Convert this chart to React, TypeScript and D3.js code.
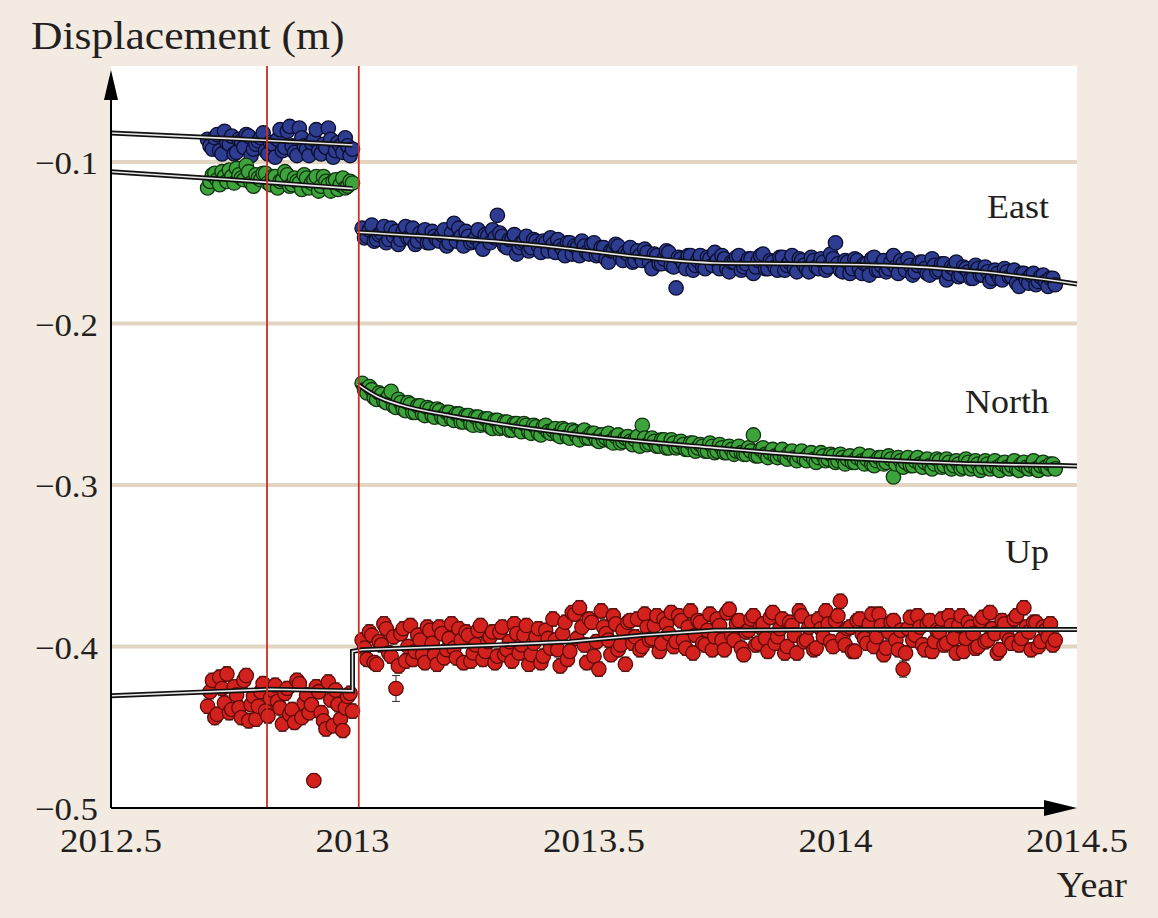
import React from "react";
import * as d3 from "d3";

// GPS station solutions (metres). Two interleaved sets per segment:
// the main set sampled every 0.01 yr, the second offset by half a step.
const PRE_START = 2012.7;
const POST_START = 2013.02;
const STEP = 0.01;
const HALF = 0.005;

const eastPre = [
  -0.086, -0.092, -0.083, -0.095, -0.088, -0.084, -0.094, -0.087, -0.083, -0.096, -0.089,
  -0.085, -0.093, -0.088, -0.097, -0.08, -0.091, -0.078, -0.094, -0.079, -0.09, -0.096,
  -0.086, -0.093, -0.089, -0.079, -0.097, -0.088, -0.094, -0.09, -0.092,
];
const eastPreHalf = [
  -0.09, -0.085, -0.093, -0.081, -0.089, -0.095, -0.086, -0.091, -0.084, -0.092, -0.087, -0.082,
  -0.095, -0.089, -0.086, -0.093, -0.081, -0.09, -0.096, -0.085, -0.092, -0.088, -0.08, -0.095,
  -0.091, -0.086, -0.093, -0.09, -0.085, -0.096,
];
const eastPost = [
  -0.141, -0.146, -0.139, -0.148, -0.144, -0.15, -0.141, -0.143, -0.148, -0.14, -0.147, -0.151,
  -0.144, -0.142, -0.15, -0.146, -0.149, -0.142, -0.15, -0.138, -0.141, -0.152, -0.146, -0.149,
  -0.142, -0.154, -0.146, -0.142, -0.133, -0.146, -0.153, -0.148, -0.157, -0.15, -0.146, -0.153,
  -0.149, -0.156, -0.15, -0.147, -0.156, -0.152, -0.158, -0.15, -0.152, -0.158, -0.152, -0.157,
  -0.15, -0.157, -0.153, -0.162, -0.155, -0.152, -0.161, -0.157, -0.162, -0.155, -0.161, -0.156,
  -0.166, -0.158, -0.163, -0.155, -0.164, -0.178, -0.16, -0.166, -0.158, -0.164, -0.158, -0.166,
  -0.16, -0.156, -0.166, -0.16, -0.168, -0.162, -0.158, -0.165, -0.16, -0.169, -0.161, -0.157,
  -0.166, -0.162, -0.167, -0.159, -0.164, -0.158, -0.168, -0.161, -0.166, -0.159, -0.165, -0.16,
  -0.167, -0.157, -0.15, -0.167, -0.161, -0.169, -0.16, -0.166, -0.163, -0.17, -0.159, -0.167,
  -0.161, -0.166, -0.158, -0.169, -0.163, -0.16, -0.17, -0.164, -0.162, -0.169, -0.16, -0.168,
  -0.163, -0.173, -0.165, -0.162, -0.17, -0.166, -0.172, -0.164, -0.17, -0.165, -0.174, -0.167,
  -0.172, -0.166, -0.171, -0.167, -0.177, -0.169, -0.175, -0.169, -0.174, -0.17, -0.177, -0.172,
];
const eastPostHalf = [
  -0.147, -0.142, -0.149, -0.145, -0.14, -0.148, -0.146, -0.151, -0.143, -0.147, -0.141, -0.149,
  -0.146, -0.15, -0.143, -0.148, -0.145, -0.152, -0.144, -0.149, -0.146, -0.143, -0.15, -0.147,
  -0.151, -0.145, -0.15, -0.147, -0.144, -0.152, -0.148, -0.145, -0.153, -0.149, -0.155, -0.148,
  -0.152, -0.149, -0.155, -0.151, -0.148, -0.154, -0.15, -0.157, -0.153, -0.149, -0.156, -0.151,
  -0.158, -0.153, -0.16, -0.155, -0.151, -0.159, -0.156, -0.153, -0.161, -0.158, -0.154, -0.162,
  -0.157, -0.163, -0.16, -0.156, -0.165, -0.159, -0.163, -0.158, -0.167, -0.161, -0.165, -0.159,
  -0.164, -0.161, -0.158, -0.166, -0.162, -0.159, -0.167, -0.163, -0.16, -0.165, -0.158, -0.166,
  -0.161, -0.165, -0.159, -0.167, -0.162, -0.166, -0.16, -0.164, -0.168, -0.161, -0.166, -0.162,
  -0.165, -0.16, -0.163, -0.168, -0.162, -0.166, -0.161, -0.169, -0.163, -0.16, -0.167, -0.164,
  -0.168, -0.162, -0.165, -0.161, -0.167, -0.164, -0.168, -0.162, -0.166, -0.17, -0.164, -0.167,
  -0.163, -0.169, -0.166, -0.171, -0.165, -0.168, -0.172, -0.166, -0.17, -0.168, -0.172, -0.169,
  -0.173, -0.168, -0.171, -0.175, -0.169, -0.173, -0.17, -0.176, -0.171, -0.174, -0.172, -0.176,
];

const northPre = [
  -0.116, -0.108, -0.111, -0.106, -0.112, -0.109, -0.104, -0.11, -0.102, -0.113, -0.108, -0.111,
  -0.107, -0.114, -0.109, -0.112, -0.106, -0.115, -0.11, -0.113, -0.108, -0.116, -0.111, -0.118,
  -0.109, -0.114, -0.112, -0.117, -0.11, -0.115, -0.113,
];
const northPreHalf = [
  -0.112, -0.107, -0.114, -0.109, -0.105, -0.113, -0.108, -0.111, -0.106, -0.115, -0.11, -0.107,
  -0.113, -0.109, -0.116, -0.111, -0.108, -0.114, -0.112, -0.117, -0.11, -0.113, -0.109, -0.115,
  -0.112, -0.118, -0.111, -0.114, -0.116, -0.112,
];
const northPost = [
  -0.237, -0.243, -0.241, -0.247, -0.244, -0.249, -0.242, -0.252, -0.249, -0.254, -0.25, -0.255,
  -0.251, -0.257, -0.253, -0.258, -0.254, -0.259, -0.255, -0.26, -0.256, -0.261, -0.257, -0.263,
  -0.258, -0.262, -0.259, -0.265, -0.26, -0.264, -0.261, -0.266, -0.262, -0.267, -0.263, -0.268,
  -0.264, -0.269, -0.263, -0.268, -0.265, -0.27, -0.266, -0.271, -0.267, -0.272, -0.266, -0.271,
  -0.268, -0.273, -0.272, -0.268, -0.274, -0.269, -0.273, -0.27, -0.275, -0.27, -0.263, -0.275,
  -0.271, -0.276, -0.272, -0.277, -0.272, -0.277, -0.273, -0.278, -0.274, -0.279, -0.275, -0.279,
  -0.274, -0.28, -0.275, -0.28, -0.276, -0.281, -0.276, -0.281, -0.277, -0.269, -0.282, -0.277,
  -0.283, -0.278, -0.283, -0.278, -0.284, -0.279, -0.285, -0.279, -0.285, -0.28, -0.286, -0.28,
  -0.285, -0.281, -0.286, -0.281, -0.287, -0.282, -0.286, -0.281, -0.287, -0.282, -0.288, -0.283,
  -0.287, -0.282, -0.295, -0.283, -0.289, -0.283, -0.288, -0.283, -0.289, -0.284, -0.29, -0.284,
  -0.289, -0.284, -0.29, -0.285, -0.29, -0.284, -0.29, -0.285, -0.291, -0.285, -0.29, -0.285,
  -0.291, -0.286, -0.29, -0.285, -0.291, -0.286, -0.29, -0.285, -0.291, -0.286, -0.29, -0.287,
];
const northPostHalf = [
  -0.241, -0.239, -0.246, -0.243, -0.248, -0.245, -0.251, -0.247, -0.253, -0.249, -0.255, -0.251,
  -0.256, -0.252, -0.257, -0.253, -0.258, -0.255, -0.259, -0.256, -0.261, -0.257, -0.262, -0.258,
  -0.263, -0.259, -0.264, -0.26, -0.265, -0.261, -0.266, -0.262, -0.265, -0.262, -0.267, -0.263,
  -0.268, -0.264, -0.267, -0.266, -0.269, -0.265, -0.27, -0.266, -0.27, -0.267, -0.271, -0.268,
  -0.272, -0.269, -0.271, -0.273, -0.27, -0.274, -0.271, -0.273, -0.272, -0.276, -0.271, -0.274,
  -0.273, -0.276, -0.272, -0.277, -0.274, -0.276, -0.275, -0.278, -0.274, -0.277, -0.276, -0.279,
  -0.276, -0.279, -0.277, -0.28, -0.278, -0.279, -0.28, -0.281, -0.279, -0.282, -0.278, -0.281,
  -0.28, -0.282, -0.281, -0.283, -0.28, -0.283, -0.282, -0.284, -0.281, -0.284, -0.283, -0.282,
  -0.284, -0.282, -0.285, -0.283, -0.284, -0.286, -0.283, -0.285, -0.284, -0.287, -0.285, -0.283,
  -0.286, -0.284, -0.287, -0.285, -0.286, -0.288, -0.285, -0.287, -0.286, -0.288, -0.287, -0.285,
  -0.288, -0.286, -0.288, -0.287, -0.289, -0.286, -0.288, -0.287, -0.289, -0.287, -0.288, -0.289,
  -0.287, -0.289, -0.288, -0.29, -0.287, -0.289, -0.288, -0.29, -0.288, -0.289, -0.287, -0.29,
];

const upPre = [
  -0.437, -0.421, -0.442, -0.426, -0.417, -0.439, -0.43, -0.444, -0.418, -0.436, -0.445, -0.428,
  -0.44, -0.432, -0.424, -0.438, -0.429, -0.442, -0.447, -0.423, -0.435, -0.441, -0.483, -0.428,
  -0.446, -0.422, -0.449, -0.436, -0.452, -0.431, -0.44,
];
const upPreHalf = [
  -0.428, -0.444, -0.419, -0.435, -0.441, -0.425, -0.438, -0.421, -0.446, -0.431, -0.437, -0.423,
  -0.443, -0.427, -0.434, -0.448, -0.426, -0.439, -0.421, -0.444, -0.43, -0.436, -0.425, -0.441,
  -0.451, -0.433, -0.427, -0.445, -0.438, -0.429,
];
const upPost = [
  -0.396, -0.408, -0.393, -0.411, -0.399, -0.389, -0.406, -0.426, -0.392, -0.409, -0.387, -0.403,
  -0.396, -0.41, -0.39, -0.405, -0.388, -0.407, -0.395, -0.401, -0.389, -0.41, -0.393, -0.404,
  -0.39, -0.408, -0.397, -0.391, -0.406, -0.388, -0.402, -0.409, -0.392, -0.399, -0.387, -0.405,
  -0.394, -0.41, -0.39, -0.401, -0.396, -0.412, -0.385, -0.403, -0.38, -0.376, -0.399, -0.383,
  -0.406, -0.414, -0.388, -0.396, -0.381, -0.402, -0.39, -0.385, -0.398, -0.383, -0.4, -0.388,
  -0.395, -0.381, -0.398, -0.386, -0.379, -0.397, -0.384, -0.401, -0.378, -0.393, -0.385, -0.399,
  -0.38, -0.394, -0.387, -0.402, -0.377, -0.396, -0.384, -0.405, -0.39, -0.381, -0.398, -0.386,
  -0.403, -0.379, -0.394, -0.383, -0.4, -0.387, -0.404, -0.381, -0.396, -0.385, -0.401, -0.389,
  -0.378, -0.397, -0.384, -0.372, -0.399, -0.388, -0.403, -0.383, -0.395, -0.386, -0.4, -0.38,
  -0.405, -0.391, -0.384, -0.402, -0.414, -0.389, -0.396, -0.381, -0.399, -0.386, -0.403, -0.39,
  -0.383, -0.398, -0.387, -0.404, -0.381, -0.395, -0.388, -0.401, -0.384, -0.397, -0.379, -0.392,
  -0.402, -0.386, -0.396, -0.383, -0.399, -0.376, -0.391, -0.385, -0.4, -0.388, -0.394, -0.399,
];
const upPostHalf = [
  -0.401, -0.391, -0.41, -0.397, -0.386, -0.404, -0.394, -0.412, -0.389, -0.4, -0.408, -0.393,
  -0.405, -0.388, -0.398, -0.411, -0.392, -0.402, -0.386, -0.407, -0.396, -0.391, -0.409, -0.399,
  -0.387, -0.403, -0.394, -0.41, -0.391, -0.405, -0.397, -0.386, -0.404, -0.393, -0.411, -0.398,
  -0.389, -0.406, -0.395, -0.383, -0.402, -0.392, -0.408, -0.379, -0.395, -0.388, -0.41, -0.385,
  -0.397, -0.378, -0.392, -0.405, -0.386, -0.399, -0.411, -0.384, -0.394, -0.402, -0.38, -0.396,
  -0.387, -0.403, -0.383, -0.392, -0.4, -0.381, -0.396, -0.388, -0.404, -0.384, -0.398, -0.39,
  -0.402, -0.383, -0.396, -0.379, -0.393, -0.386, -0.401, -0.391, -0.383, -0.399, -0.388, -0.395,
  -0.382, -0.398, -0.389, -0.404, -0.385, -0.393, -0.378, -0.397, -0.388, -0.402, -0.383, -0.394,
  -0.386, -0.4, -0.381, -0.395, -0.389, -0.403, -0.384, -0.392, -0.398, -0.38, -0.394, -0.387,
  -0.401, -0.385, -0.396, -0.39, -0.404, -0.382, -0.393, -0.388, -0.402, -0.384, -0.397, -0.391,
  -0.399, -0.381, -0.395, -0.387, -0.403, -0.385, -0.392, -0.4, -0.382, -0.396, -0.389, -0.404,
  -0.384, -0.393, -0.398, -0.381, -0.395, -0.388, -0.402, -0.385, -0.397, -0.39, -0.386, -0.396,
];

// Points with enlarged formal errors: [year, sigma]
const upWideErrors: [number, number][] = [
  [2012.92, 0.004],
  [2013.09, 0.008],
  [2014.14, 0.005],
];

// Trajectory model curves (knots)
const eastFitPreYears = [2012.5, 2012.75, 2013.0];
const eastFitPre = [-0.082, -0.0855, -0.0895];
const eastFitPostYears = [2013.01, 2013.2, 2013.4, 2013.6, 2013.75, 2013.9, 2014.1, 2014.3, 2014.5];
const eastFitPost = [-0.1435, -0.147, -0.152, -0.159, -0.1625, -0.163, -0.164, -0.168, -0.1755];

const northFitPreYears = [2012.5, 2012.75, 2013.0];
const northFitPre = [-0.106, -0.111, -0.1165];
const northFitPostYears = [2013.01, 2013.05, 2013.1, 2013.2, 2013.3, 2013.5, 2013.75, 2014.0, 2014.25, 2014.5];
const northFitPost = [-0.2375, -0.245, -0.2505, -0.257, -0.262, -0.27, -0.277, -0.283, -0.2865, -0.2882];

const upFitYears = [2012.5, 2012.83, 2013.0, 2013.0, 2013.02, 2013.3, 2013.45, 2013.6, 2013.75, 2014.0, 2014.5];
const upFit = [-0.4305, -0.4265, -0.4275, -0.403, -0.402, -0.399, -0.397, -0.393, -0.39, -0.3895, -0.3895];

// Event epochs (vertical markers)
const eventYears = [2012.823, 2013.013];

const xTicks = [2012.5, 2013, 2013.5, 2014, 2014.5];
const xTickLabels = ["2012.5", "2013", "2013.5", "2014", "2014.5"];
const yTicks = [-0.1, -0.2, -0.3, -0.4, -0.5];
const yTickLabels = ["\u22120.1", "\u22120.2", "\u22120.3", "\u22120.4", "\u22120.5"];
const gridValues = [-0.1, -0.2, -0.3, -0.4];

const seriesNames = ["East", "North", "Up"];
const seriesLabelValues = [-0.1345, -0.2555, -0.3485];

const W = 1158;
const H = 918;
const PLOT = { left: 111, right: 1077, top: 66, bottom: 808 };
const SERIF = "'Liberation Serif', 'Times New Roman', serif";
const SX = 1.09;
const TEXT_COLOR = "#231f20";
const R = 7.2;

const x = d3.scaleLinear().domain([2012.5, 2014.5]).range([PLOT.left, PLOT.right]);
const y = d3.scaleLinear().domain([-0.5, -0.1]).range([808, 162]);

type Pt = { t: number; v: number; err: number };

function toPoints(
  sets: [number, number[]][],
  sigma: number,
  wide: [number, number][] = []
): Pt[] {
  const errAt = (t: number) => {
    const hit = wide.find((w) => Math.abs(w[0] - t) < 0.003);
    return hit ? hit[1] : sigma;
  };
  const pts: Pt[] = [];
  sets.forEach(([start, vals]) =>
    vals.forEach((v, i) => {
      const t = start + i * STEP;
      pts.push({ t, v, err: errAt(t) });
    })
  );
  return pts.sort((a, b) => a.t - b.t);
}

const series = [
  {
    pts: toPoints(
      [
        [PRE_START, eastPre],
        [PRE_START + HALF, eastPreHalf],
        [POST_START, eastPost],
        [POST_START + HALF, eastPostHalf],
      ],
      0.002
    ),
    fill: "#2e3c92",
    stroke: "#0b102e",
    bar: "#141a3a",
  },
  {
    pts: toPoints(
      [
        [PRE_START, northPre],
        [PRE_START + HALF, northPreHalf],
        [POST_START, northPost],
        [POST_START + HALF, northPostHalf],
      ],
      0.002
    ),
    fill: "#3da43b",
    stroke: "#123312",
    bar: "#1c3a1c",
  },
  {
    pts: toPoints(
      [
        [PRE_START, upPre],
        [PRE_START + HALF, upPreHalf],
        [POST_START, upPost],
        [POST_START + HALF, upPostHalf],
      ],
      0.0045,
      upWideErrors
    ),
    fill: "#d3221d",
    stroke: "#5e0b09",
    bar: "#3a2a2a",
  },
];

const smooth = d3
  .line<[number, number]>()
  .x((d) => x(d[0]))
  .y((d) => y(d[1]))
  .curve(d3.curveMonotoneX);
const straight = d3
  .line<[number, number]>()
  .x((d) => x(d[0]))
  .y((d) => y(d[1]));

const zip = (a: number[], b: number[]) => a.map((t, i) => [t, b[i]] as [number, number]);

const fitPaths = [
  smooth(zip(eastFitPreYears, eastFitPre)),
  smooth(zip(eastFitPostYears, eastFitPost)),
  smooth(zip(northFitPreYears, northFitPre)),
  smooth(zip(northFitPostYears, northFitPost)),
  straight(zip(upFitYears, upFit)),
];

function Label(props: {
  x: number;
  y: number;
  anchor: "start" | "middle" | "end";
  size: number;
  children: React.ReactNode;
}) {
  return (
    <text
      transform={`translate(${props.x},${props.y}) scale(${SX},1)`}
      textAnchor={props.anchor}
      fontSize={props.size}
      fontFamily={SERIF}
      fill={TEXT_COLOR}
    >
      {props.children}
    </text>
  );
}

export default function App() {
  return (
    <svg width={W} height={H} style={{ position: "absolute", left: 0, top: 0 }}>
      <rect x={0} y={0} width={W} height={H} fill="#f3eae1" />
      <rect
        x={PLOT.left}
        y={PLOT.top}
        width={PLOT.right - PLOT.left}
        height={PLOT.bottom - PLOT.top}
        fill="#ffffff"
      />

      {gridValues.map((v) => (
        <line key={v} x1={PLOT.left} x2={PLOT.right} y1={y(v)} y2={y(v)} stroke="#e2d6c3" strokeWidth={4} />
      ))}

      {series.map((s, si) => (
        <g key={si}>
          {s.pts.map((p, i) => {
            const cx = x(p.t);
            const y1 = y(p.v + p.err);
            const y2 = y(p.v - p.err);
            return (
              <g key={i} stroke={s.bar} strokeWidth={1}>
                <line x1={cx} x2={cx} y1={y1} y2={y2} />
                <line x1={cx - 4} x2={cx + 4} y1={y1} y2={y1} />
                <line x1={cx - 4} x2={cx + 4} y1={y2} y2={y2} />
              </g>
            );
          })}
          {s.pts.map((p, i) => (
            <circle key={i} cx={x(p.t)} cy={y(p.v)} r={R} fill={s.fill} stroke={s.stroke} strokeWidth={1.3} />
          ))}
        </g>
      ))}

      {fitPaths.map((d, i) => (
        <g key={i} fill="none">
          <path d={d ?? ""} stroke="#111" strokeWidth={5} />
          <path d={d ?? ""} stroke="#e8e8e8" strokeWidth={1.6} />
        </g>
      ))}

      {eventYears.map((t) => (
        <line key={t} x1={x(t)} x2={x(t)} y1={PLOT.top} y2={PLOT.bottom} stroke="#cc2e26" strokeWidth={1.8} />
      ))}

      {/* axes with arrow heads */}
      <line x1={PLOT.left} x2={PLOT.left} y1={PLOT.bottom} y2={96} stroke="#000" strokeWidth={2} />
      <polygon points={`${PLOT.left},70 ${PLOT.left - 7},100 ${PLOT.left + 7},100`} fill="#000" />
      <line x1={PLOT.left} x2={PLOT.right - 30} y1={PLOT.bottom} y2={PLOT.bottom} stroke="#000" strokeWidth={2} />
      <polygon
        points={`${PLOT.right},${PLOT.bottom} ${PLOT.right - 33},${PLOT.bottom - 8} ${PLOT.right - 33},${PLOT.bottom + 8}`}
        fill="#000"
      />

      {yTicks.map((v, i) => (
        <Label key={v} x={98} y={y(v) + 12} anchor="end" size={32}>
          {yTickLabels[i]}
        </Label>
      ))}
      {xTicks.map((t, i) => (
        <Label key={t} x={x(t)} y={852} anchor="middle" size={34}>
          {xTickLabels[i]}
        </Label>
      ))}

      <Label x={31} y={49} anchor="start" size={40}>
        Displacement (m)
      </Label>
      <Label x={1127} y={897} anchor="end" size={35}>
        Year
      </Label>

      {seriesNames.map((n, i) => (
        <Label key={n} x={1049} y={y(seriesLabelValues[i])} anchor="end" size={33}>
          {n}
        </Label>
      ))}
    </svg>
  );
}
